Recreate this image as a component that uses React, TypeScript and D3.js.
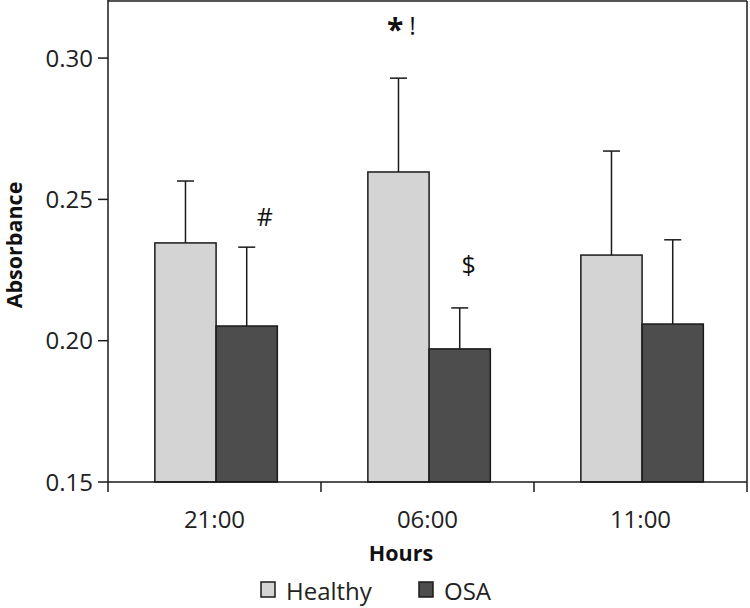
import React from "react";
import * as d3 from "d3";

const categories = ["21:00", "06:00", "11:00"];
const seriesNames = ["Healthy", "OSA"];
const healthyMean = [0.2346, 0.2597, 0.2303];
const healthyErrTop = [0.2565, 0.2929, 0.2671];
const osaMean = [0.2052, 0.1971, 0.2059];
const osaErrTop = [0.2331, 0.2116, 0.2357];
const yTicks = [0.15, 0.2, 0.25, 0.3];
const annotations = [
  { cat: "21:00", series: "OSA", text: "#", value: 0.2437, dx: 18 },
  { cat: "06:00", series: "Healthy", text: "* !", value: 0.3087, dx: 3 },
  { cat: "06:00", series: "OSA", text: "$", value: 0.2268, dx: 9 },
];

const W = 750;
const H = 608;
const left = 108;
const right = 747;
const top = 1;
const bottom = 482;
const FONT = "'Open Sans', sans-serif";
const colors: Record<string, string> = { Healthy: "#d4d4d4", OSA: "#4d4d4d" };

export default function App() {
  const x = d3.scaleBand<string>().domain(categories).range([left, right]).paddingInner(0).paddingOuter(0);
  const bwCat = x.bandwidth();
  const xs = d3.scaleBand<string>().domain(seriesNames).range([bwCat * 0.22, bwCat * 0.795]).paddingInner(0).paddingOuter(0);
  const y = d3.scaleLinear().domain([0.15, 0.3202]).range([bottom, top]);

  const data = categories.flatMap((c, i) => [
    { cat: c, series: "Healthy", mean: healthyMean[i], err: healthyErrTop[i] },
    { cat: c, series: "OSA", mean: osaMean[i], err: osaErrTop[i] },
  ]);
  const stroke = "#1a1a1a";
  const bw = xs.bandwidth();

  return (
    <svg width={W} height={H} style={{ position: "absolute", left: 0, top: 0, background: "#fff" }}>
      {data.map((d, i) => {
        const cx = (x(d.cat) as number) + (xs(d.series) as number) + bw / 2;
        return (
          <g key={"e" + i} stroke={stroke} strokeWidth={1.5}>
            <line x1={cx} x2={cx} y1={y(d.mean)} y2={y(d.err)} />
            <line x1={cx - 8.5} x2={cx + 8.5} y1={y(d.err)} y2={y(d.err)} />
          </g>
        );
      })}
      {data.map((d, i) => {
        const bx = (x(d.cat) as number) + (xs(d.series) as number);
        return (
          <rect
            key={"b" + i}
            x={bx}
            y={y(d.mean)}
            width={bw}
            height={bottom - y(d.mean)}
            fill={colors[d.series]}
            stroke={stroke}
            strokeWidth={1.5}
          />
        );
      })}
      <line x1={left} x2={right} y1={top} y2={top} stroke={stroke} strokeWidth={1.5} />
      <line x1={right} x2={right} y1={top} y2={bottom} stroke={stroke} strokeWidth={1.5} />
      <line x1={left} x2={left} y1={top - 1} y2={bottom} stroke={stroke} strokeWidth={1.5} />
      <line x1={left} x2={right} y1={bottom} y2={bottom} stroke={stroke} strokeWidth={1.5} />
      {yTicks.map((t) => (
        <g key={"yt" + t}>
          <line x1={left - 10} x2={left} y1={y(t)} y2={y(t)} stroke={stroke} strokeWidth={1.5} />
          <text x={left - 15} y={y(t)} dy="0.36em" textAnchor="end" fontFamily={FONT} fontSize={24} fill="#222">
            {d3.format(".2f")(t)}
          </text>
        </g>
      ))}
      {[...categories.map((c) => x(c) as number), right].map((px, i) => (
        <line key={"xt" + i} x1={px} x2={px} y1={bottom} y2={bottom + 10} stroke={stroke} strokeWidth={1.5} />
      ))}
      {categories.map((c) => (
        <text
          key={"xl" + c}
          x={(x(c) as number) + bwCat / 2}
          y={528}
          textAnchor="middle"
          fontFamily={FONT}
          fontSize={24}
          fill="#222"
        >
          {c}
        </text>
      ))}
      <text x={401} y={561} textAnchor="middle" fontFamily={FONT} fontWeight="bold" fontSize={21.5} fill="#111">
        Hours
      </text>
      <text
        transform={`translate(22,245) rotate(-90)`}
        textAnchor="middle"
        fontFamily={FONT}
        fontWeight="bold"
        fontSize={21.5}
        fill="#111"
      >
        Absorbance
      </text>
      {annotations.map((a, i) => {
        const ax = (x(a.cat) as number) + (xs(a.series) as number) + bw / 2 + a.dx;
        const parts = a.text.split(" ");
        return (
          <text
            key={"a" + i}
            x={ax}
            y={y(a.value)}
            dy="0.36em"
            textAnchor="middle"
            fontFamily={FONT}
            fontSize={25}
            fill="#111"
          >
            {parts.length > 1 ? (
              <>
                <tspan fontWeight="bold" fontSize={30} dy="0.2em">{parts[0]}</tspan>
                <tspan dx="6" dy="-0.2em">{parts[1]}</tspan>
              </>
            ) : (
              a.text
            )}
          </text>
        );
      })}
      {seriesNames.map((s, i) => {
        const lx = i === 0 ? 261 : 419;
        return (
          <g key={"lg" + s}>
            <rect x={lx} y={582} width={14} height={15} fill={colors[s]} stroke={stroke} strokeWidth={1.5} />
            <text x={lx + 25} y={600} fontFamily={FONT} fontSize={24} fill="#222">
              {s}
            </text>
          </g>
        );
      })}
    </svg>
  );
}
